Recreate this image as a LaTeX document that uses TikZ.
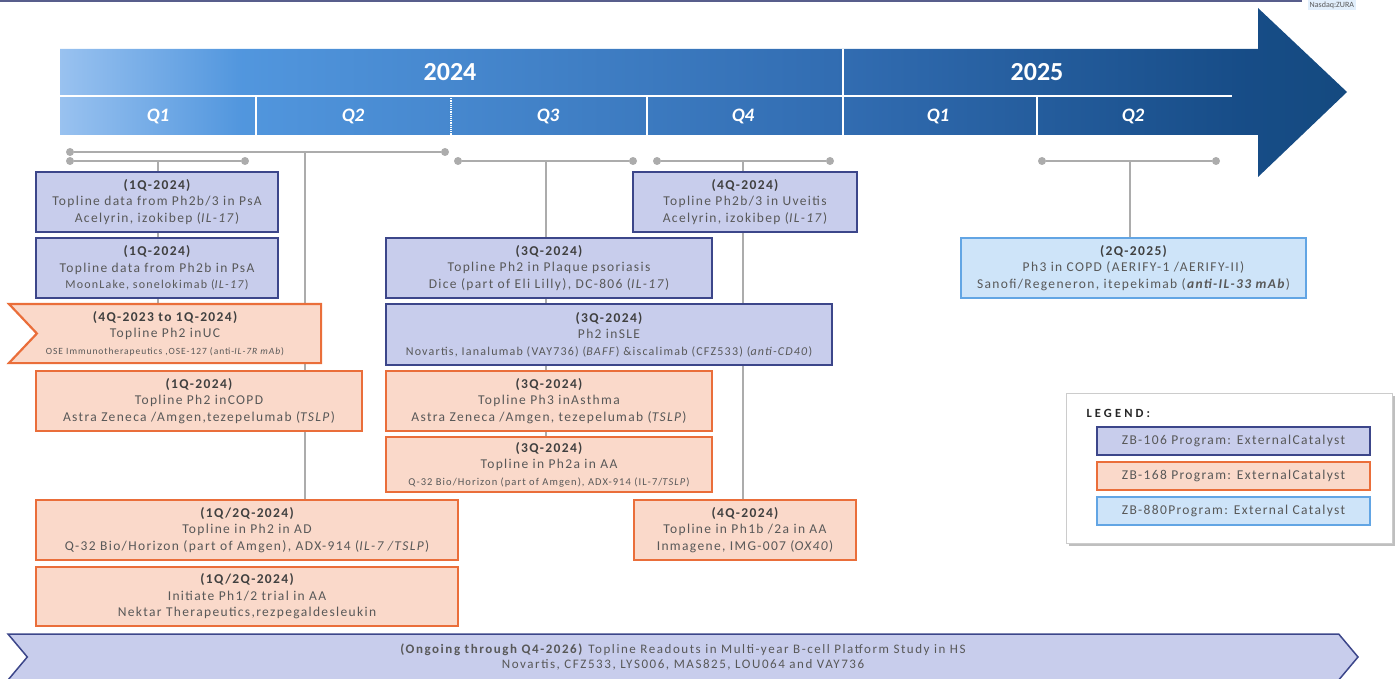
\documentclass[tikz,border=0pt]{standalone}
\usepackage{fontspec}
\setmainfont{Carlito}[LetterSpace=10]
\newfontfamily\plainfont{Carlito}
\usetikzlibrary{shapes.symbols,shadows,backgrounds}

\definecolor{zbnavy}{RGB}{60,70,138}
\definecolor{zblav}{RGB}{200,205,236}
\definecolor{zborange}{RGB}{234,110,58}
\definecolor{zbpeach}{RGB}{250,217,202}
\definecolor{zbsky}{RGB}{206,228,249}
\definecolor{zbskyline}{RGB}{98,165,228}
\definecolor{zbtext}{RGB}{88,88,88}
\definecolor{zbstem}{RGB}{172,172,172}
\definecolor{zbrule}{RGB}{88,94,140}

\pgfdeclarehorizontalshading{bannershade}{100bp}{rgb(0bp)=(0.60,0.76,0.94); rgb(25bp)=(0.60,0.76,0.94); rgb(32bp)=(0.32,0.59,0.87); rgb(56bp)=(0.19,0.42,0.69); rgb(71bp)=(0.09,0.30,0.53); rgb(75bp)=(0.08,0.29,0.50); rgb(100bp)=(0.08,0.29,0.50)}

\tikzset{
  card/.style={align=center, text=zbtext, line width=2.2pt, inner sep=2pt,
    font=\fontsize{13.5}{16.5}\selectfont},
  bluebox/.style={card, draw=zbnavy, fill=zblav},
  orangebox/.style={card, draw=zborange, fill=zbpeach},
  skybox/.style={card, draw=zbskyline, fill=zbsky},
  stem/.style={draw=zbstem, line width=2pt},
  dot/.style={circle, fill=zbstem, inner sep=0pt, minimum size=8pt},
  quarter/.style={text=white, font=\plainfont\fontsize{19}{19}\selectfont\bfseries\itshape},
  year/.style={text=white, font=\plainfont\fontsize{26}{26}\selectfont\bfseries},
}
\newcommand{\hd}[1]{\textbf{\color{black!75}#1}}
\newcommand{\sm}[1]{{\fontsize{12}{16.5}\selectfont #1}}
\newcommand{\xs}[1]{{\fontsize{10.5}{16.5}\selectfont #1}}

\begin{document}
\begin{tikzpicture}[x=1pt, y=-1pt]
    \useasboundingbox (0,0) rectangle (1398,679);
    \draw[zbrule, line width=3pt] (0,1) -- (1302,1);
    \node[fill=zbsky!60, text=zbtext, font=\plainfont\fontsize{8}{8}\selectfont,
        inner sep=1.5pt, anchor=north west] (tag) at (1308,0) {Nasdaq:ZURA};

    % timeline banner
    \shade[shading=bannershade] (60,49) -- (1258,49) -- (1258,8) -- (1347,92)
        -- (1258,177) -- (1258,135) -- (60,135) -- cycle;
    \draw[white, line width=1.5pt] (60,96) -- (1232,96);
    \draw[white, line width=1.5pt] (843,49) -- (843,135);
    \foreach \x in {256,647,1037}
        \draw[white, line width=1.5pt] (\x,96) -- (\x,135);
    \draw[white, line width=1.2pt, densely dotted] (451,96) -- (451,135);
    \node[year] (y24) at (450,72) {2024};
    \node[year] (y25) at (1037,72) {2025};
    \foreach \x/\q [count=\i] in {158/Q1,353/Q2,548/Q3,743/Q4,938/Q1,1133/Q2}
        \node[quarter] (q\i) at (\x,116) {\q};

    % brackets
    \foreach \y/\a/\b/\m [count=\i] in {152/70/445/305,161/70/245/158,161/458/633/546,
            161/657/830/743,161/1042/1216/1130} {
        \node[dot] (l\i) at (\a,\y) {};
        \node[dot] (r\i) at (\b,\y) {};
        \draw[stem] (l\i) -- (r\i);
        \coordinate (m\i) at (\m,\y);
    }

    % left column
    \node[bluebox, minimum width=242pt, minimum height=60pt] (psa1) at (157,202)
        {\hd{(1Q-2024)}\\Topline data from Ph2b/3 in PsA\\Acelyrin, izokibep (\textit{IL-17})};
    \node[bluebox, minimum width=242pt, minimum height=60pt] (psa2) at (157,268)
        {\hd{(1Q-2024)}\\Topline data from Ph2b in PsA\\\sm{MoonLake, sonelokimab (\textit{IL-17})}};
    \node[card, minimum width=310pt, minimum height=57pt] (uc) at (165,333.5)
        {\hd{(4Q-2023 to 1Q-2024)}\\Topline Ph2 inUC\\{\fontsize{9.5}{16.5}\selectfont OSE Immunotherapeutics ,OSE-127 (anti-\textit{IL-7R mAb})}};
    \node[orangebox, minimum width=326pt, minimum height=60pt] (copd) at (199,401)
        {\hd{(1Q-2024)}\\Topline Ph2 inCOPD\\Astra Zeneca /Amgen,tezepelumab (\textit{TSLP})};
    \node[orangebox, minimum width=422pt, minimum height=60pt] (ad) at (247,530)
        {\hd{(1Q/2Q-2024)}\\Topline in Ph2 in AD\\Q-32 Bio/Horizon (part of Amgen), ADX-914 (\textit{IL-7 /TSLP})};
    \node[orangebox, minimum width=422pt, minimum height=59pt] (aa1) at (247,596.5)
        {\hd{(1Q/2Q-2024)}\\Initiate Ph1/2 trial in AA\\Nektar Therapeutics,rezpegaldesleukin};

    % middle column
    \node[bluebox, minimum width=326pt, minimum height=60pt] (plaque) at (549,268)
        {\hd{(3Q-2024)}\\Topline Ph2 in Plaque psoriasis\\Dice (part of Eli Lilly), DC-806 (\textit{IL-17})};
    \node[bluebox, minimum width=446pt, minimum height=61pt] (sle) at (609,334.5)
        {\hd{(3Q-2024)}\\Ph2 inSLE\\\sm{Novartis, Ianalumab (VAY736) (\textit{BAFF}) \&iscalimab (CFZ533) (\textit{anti-CD40})}};
    \node[orangebox, minimum width=326pt, minimum height=60pt] (asthma) at (549,401)
        {\hd{(3Q-2024)}\\Topline Ph3 inAsthma\\Astra Zeneca /Amgen, tezepelumab (\textit{TSLP})};
    \node[orangebox, minimum width=326pt, minimum height=55pt] (aa2) at (549,464.5)
        {\hd{(3Q-2024)}\\Topline in Ph2a in AA\\\xs{Q-32 Bio/Horizon (part of Amgen), ADX-914 (IL-7/\textit{TSLP})}};
    \node[bluebox, minimum width=224pt, minimum height=60pt] (uveitis) at (745,202)
        {\hd{(4Q-2024)}\\Topline Ph2b/3 in Uveitis\\Acelyrin, izokibep (\textit{IL-17})};
    \node[orangebox, minimum width=222pt, minimum height=60pt] (aa3) at (745,530)
        {\hd{(4Q-2024)}\\Topline in Ph1b /2a in AA\\Inmagene, IMG-007 (\textit{OX40})};

    % right column
    \node[skybox, minimum width=345pt, minimum height=60pt] (copd25) at (1133.5,268)
        {\hd{(2Q-2025)}\\Ph3 in COPD (AERIFY-1 /AERIFY-II)\\Sanofi/Regeneron, itepekimab (\textbf{\textit{anti-IL-33 mAb}})};

    \begin{pgfonlayer}{background}
        \draw[stem] (m1) -- (m1 |- ad.north);
        \draw[stem] (m2) -- (m2 |- uc.north);
        \draw[stem] (m3) -- (m3 |- aa2.north);
        \draw[stem] (m4) -- (m4 |- aa3.north);
        \draw[stem] (m5) -- (m5 |- copd25.north);
        \draw[draw=zborange, fill=zbpeach, line width=2.2pt, line join=miter]
            (uc.north west) -- (uc.north east) -- (uc.south east) -- (uc.south west)
            -- ([xshift=28pt]uc.west) -- cycle;
    \end{pgfonlayer}

    % legend
    \node[draw=black!20, fill=white, line width=1pt, minimum width=326pt, minimum height=150pt,
        drop shadow={shadow xshift=2.5pt, shadow yshift=-2.5pt, fill=black!50}] (legend) at (1229,468) {};
    \node[anchor=west, text=black!85,
        font=\bfseries\addfontfeature{LetterSpace=25}\fontsize{12.5}{12.5}\selectfont] (legtitle) at (1083,413) {LEGEND:};
    \node[bluebox, minimum width=273pt, minimum height=28pt] (key1) at (1233.5,441) {ZB-106 Program: ExternalCatalyst};
    \node[orangebox, minimum width=273pt, minimum height=28pt] (key2) at (1233.5,476) {ZB-168 Program: ExternalCatalyst};
    \node[skybox, minimum width=273pt, minimum height=28pt] (key3) at (1233.5,511) {ZB-880Program: External Catalyst};

    % ongoing study
    \node[bluebox, shape=signal, signal from=west, signal to=east, signal pointer angle=100,
        minimum width=1350pt, minimum height=46pt, line width=1.5pt,
        font=\addfontfeature{LetterSpace=12}\fontsize{13}{15}\selectfont] (hs) at (683,657)
        {\textbf{(Ongoing through Q4-2026)} Topline Readouts in Multi-year B-cell Platform Study in HS\\
        Novartis, CFZ533, LYS006, MAS825, LOU064 and VAY736};
\end{tikzpicture}
\end{document}
